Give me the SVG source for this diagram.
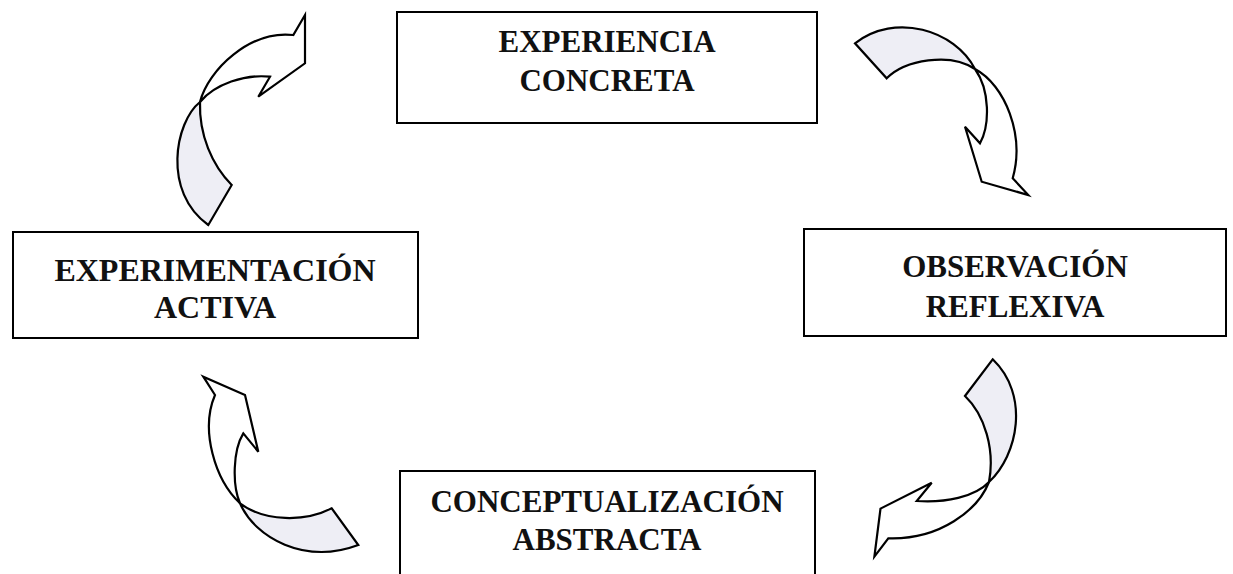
<svg xmlns="http://www.w3.org/2000/svg" width="1233" height="574" viewBox="0 0 1233 574">
<style>
.box{fill:#fff;stroke:#000;stroke-width:2}
.lbl{font-family:"Liberation Serif","Times New Roman",serif;font-weight:bold;font-size:31px;text-anchor:middle;fill:#111}
.big{font-size:32px}
.back{fill:#eeeef5;stroke:#000;stroke-width:2.2;stroke-linejoin:miter}
.front{fill:#fff;stroke:#000;stroke-width:2.2;stroke-linejoin:miter}
</style>
<rect width="1233" height="574" fill="#fff"/>
<g id="connectors">
  <g id="arrow-1">
    <path class="back" d="M200,102 C175,122 162,192 208.3,225 L231.7,185 C212,165 199,135 200,102 Z"/>
    <path class="front" d="M200,102 C208,70 250,30 293.3,35 L305,15 L305,63.3 L258.3,96.7 L270,76.7 C245,74 215,84 200,102 Z"/>
  </g>
  <g id="arrow-2">
    <path class="back" d="M975,69 C955,30 895,12 855,43.3 L886.7,78.3 C905,60 950,52 975,69 Z"/>
    <path class="front" d="M975,69 C1005,85 1025,135 1012.7,178.3 L1028.3,195 L981.7,181.7 L965,126.7 L980,143.3 C990,125 990,90 975,69 Z"/>
  </g>
  <g id="arrow-3">
    <path class="back" d="M989,482 C1018,455 1030,395 992.7,359.3 L965,396 C985,415 995,450 989,482 Z"/>
    <path class="front" d="M989,482 C978,510 940,540 888.3,538.3 L874.4,556.6 L880.5,508.6 L931.7,482.7 L916.7,501 C945,503 975,497 989,482 Z"/>
  </g>
  <g id="arrow-4">
    <path class="back" d="M240,503.3 C255,538 305,565 358.3,545 L331.7,508.3 C305,522 265,522 240,503.3 Z"/>
    <path class="front" d="M240,503.3 C215,480 200,430 215,395 L203.3,376.7 L245,395 L258.3,451.7 L243.3,433.3 C233,450 232,485 240,503.3 Z"/>
  </g>
</g>
<g id="node-experiencia">
  <rect class="box" x="397" y="12" width="420" height="111"/>
  <text class="lbl" x="607" y="52">EXPERIENCIA</text>
  <text class="lbl" x="607" y="91">CONCRETA</text>
</g>
<g id="node-observacion">
  <rect class="box" x="804" y="229" width="422" height="107"/>
  <text class="lbl" x="1015" y="277">OBSERVACIÓN</text>
  <text class="lbl" x="1015" y="317">REFLEXIVA</text>
</g>
<g id="node-conceptualizacion">
  <rect class="box" x="400" y="471" width="415" height="120"/>
  <text class="lbl" x="607" y="512">CONCEPTUALIZACIÓN</text>
  <text class="lbl" x="607" y="550">ABSTRACTA</text>
</g>
<g id="node-experimentacion">
  <rect class="box" x="13" y="232" width="405" height="106"/>
  <text class="lbl big" x="215" y="281">EXPERIMENTACIÓN</text>
  <text class="lbl big" x="215" y="318">ACTIVA</text>
</g>
</svg>
